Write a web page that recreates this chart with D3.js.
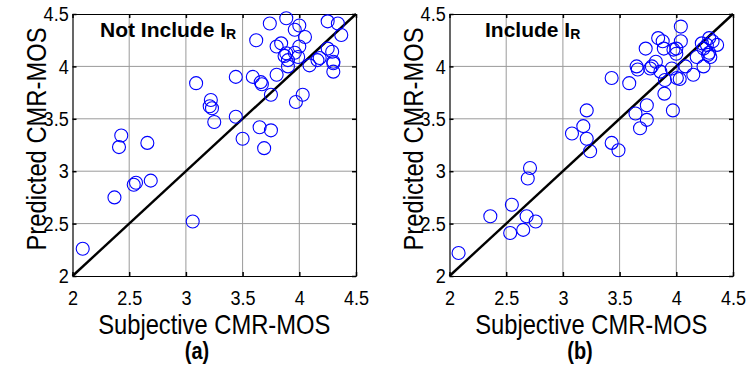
<!DOCTYPE html>
<html>
<head>
<meta charset="utf-8">
<script src="https://cdn.jsdelivr.net/npm/d3@7"></script>
<style>
  html, body { margin: 0; padding: 0; background: #fff; }
  svg { display: block; font-family: "Liberation Sans", Arial, Helvetica, sans-serif; }
</style>
</head>
<body>
<svg id="chart" width="750" height="368"></svg>
<script>
// Axis ticks shared by both panels
const tickValues = [2, 2.5, 3, 3.5, 4, 4.5];
const tickLabels = ["2", "2.5", "3", "3.5", "4", "4.5"];

// Panel (a): model without I_R
const subjectiveA = [2.09, 2.37, 2.43, 2.41, 2.66, 2.54, 2.56, 2.69, 3.06, 3.09,
  3.44, 3.59, 3.66, 3.67, 3.80, 3.75, 3.22, 3.21, 3.23, 3.97,
  4.03, 3.25, 3.44, 3.65, 3.75, 3.50, 3.69, 3.62, 3.74, 3.885,
  4.00, 3.96, 4.05, 4.25, 4.34, 4.37, 3.80, 3.84, 4.00, 3.885,
  3.96, 3.99, 3.90, 3.90, 4.09, 4.18, 4.16, 4.25, 4.29, 4.30,
  4.30, 4.30, 3.87];
const predictedA = [2.26, 2.75, 3.34, 3.23, 3.27, 2.87, 2.89, 2.91, 2.52, 3.84,
  3.90, 3.90, 3.85, 3.83, 3.92, 3.73, 3.68, 3.62, 3.60, 3.66,
  3.73, 3.47, 3.52, 3.42, 3.39, 3.31, 3.22, 4.25, 4.41, 4.46,
  4.39, 4.35, 4.28, 4.43, 4.41, 4.30, 4.19, 4.22, 4.19, 4.125,
  4.13, 4.09, 4.06, 4.00, 4.01, 4.08, 4.06, 4.17, 4.14, 4.045,
  4.03, 3.95, 4.10];

// Panel (b): model including I_R
const subjectiveB = [2.08, 2.36, 2.535, 2.55, 2.65, 2.68, 2.76, 2.69, 2.71, 3.21,
  3.18, 3.08, 3.21, 3.24, 3.43, 3.49, 3.43, 3.585, 3.65, 3.66,
  3.73, 3.785, 3.77, 3.82, 3.84, 3.88, 3.89, 3.86, 3.90, 3.895,
  3.74, 3.64, 3.74, 3.68, 3.97, 3.975, 4.00, 4.00, 4.04, 4.04,
  3.96, 4.005, 4.03, 4.08, 4.15, 4.18, 4.24, 4.28, 4.29, 4.225,
  4.24, 4.27, 4.32, 4.36, 4.30, 4.29];
const predictedB = [2.22, 2.57, 2.41, 2.68, 2.44, 2.57, 2.52, 2.93, 3.03, 3.58,
  3.43, 3.36, 3.31, 3.19, 3.27, 3.20, 3.89, 3.84, 4.00, 3.97,
  4.17, 4.00, 3.98, 4.045, 4.27, 4.24, 4.17, 3.95, 3.87, 3.74,
  3.63, 3.55, 3.49, 3.41, 3.58, 4.16, 4.17, 4.12, 4.38, 4.24,
  3.98, 3.89, 3.88, 4.00, 3.92, 4.09, 4.00, 4.11, 4.27, 4.22,
  4.17, 4.205, 4.24, 4.205, 4.09, 4.13];

const panels = [
  { x: subjectiveA, y: predictedA, title: "Not Include I", sub: "R", tag: "(a)",
    left: 72.5, right: 356, titleX: 100, tagX: 197 },
  { x: subjectiveB, y: predictedB, title: "Include I", sub: "R", tag: "(b)",
    left: 449.5, right: 733, titleX: 485, tagX: 580 }
];

const plotTop = 14, plotBottom = 276;
const textScale = "scale(0.95,1.1)";   // tall, narrow lettering
const svg = d3.select("#chart");

// text placed at (x, y) and stretched vertically about its anchor point
function label(sel, x, y, rot, scale) {
  return sel.append("text")
    .attr("transform", `translate(${x},${y})${rot ? " rotate(" + rot + ")" : ""} ${scale || textScale}`)
    .attr("fill", "#000");
}

panels.forEach(p => {
  const xs = d3.scaleLinear().domain([2, 4.5]).range([p.left, p.right]);
  const ys = d3.scaleLinear().domain([2, 4.5]).range([plotBottom, plotTop]);
  const g = svg.append("g");

  // grid
  g.append("g").selectAll("line").data(tickValues.slice(1, -1)).join("line")
    .attr("x1", d => xs(d)).attr("x2", d => xs(d)).attr("y1", plotTop).attr("y2", plotBottom)
    .attr("stroke", "#9a9a9a").attr("stroke-width", 1);
  g.append("g").selectAll("line").data(tickValues.slice(1, -1)).join("line")
    .attr("y1", d => ys(d)).attr("y2", d => ys(d)).attr("x1", p.left).attr("x2", p.right)
    .attr("stroke", "#9a9a9a").attr("stroke-width", 1);

  // axes with inward ticks on all four sides
  const fmt = (d) => tickLabels[tickValues.indexOf(d)];
  const axB = g.append("g").attr("transform", `translate(0,${plotBottom})`)
    .call(d3.axisBottom(xs).tickValues(tickValues).tickFormat(fmt).tickSizeInner(-4).tickSizeOuter(0).tickPadding(13));
  const axL = g.append("g").attr("transform", `translate(${p.left},0)`)
    .call(d3.axisLeft(ys).tickValues(tickValues).tickFormat(fmt).tickSizeInner(-4).tickSizeOuter(0).tickPadding(4));
  g.append("g").attr("transform", `translate(0,${plotTop})`)
    .call(d3.axisTop(xs).tickValues(tickValues).tickFormat("").tickSizeInner(-4).tickSizeOuter(0));
  g.append("g").attr("transform", `translate(${p.right},0)`)
    .call(d3.axisRight(ys).tickValues(tickValues).tickFormat("").tickSizeInner(-4).tickSizeOuter(0));
  g.selectAll(".domain").attr("stroke", "#000").attr("stroke-width", 1.2);
  g.selectAll(".tick line").attr("stroke", "#000").attr("stroke-width", 1.5);
  [axB, axL].forEach(a => a.selectAll(".tick text")
    .attr("font-size", 19).attr("fill", "#000")
    .attr("font-family", "'Liberation Sans', Arial, sans-serif")
    .attr("transform", textScale));

  // identity line
  g.append("line")
    .attr("x1", xs(2)).attr("y1", ys(2)).attr("x2", xs(4.5)).attr("y2", ys(4.5))
    .attr("stroke", "#000").attr("stroke-width", 2.4);

  // scatter
  g.append("g").selectAll("circle").data(p.x.map((v, i) => [v, p.y[i]])).join("circle")
    .attr("cx", d => xs(d[0])).attr("cy", d => ys(d[1])).attr("r", 6.5)
    .attr("fill", "none").attr("stroke", "#0000ff").attr("stroke-width", 1.1);

  // panel title
  const t = label(g, p.titleX, 37, 0, "scale(1,1)").attr("font-size", 21).attr("font-weight", "bold");
  t.append("tspan").text(p.title);
  t.append("tspan").attr("font-size", 14).attr("dy", 2).text(p.sub);

  // axis titles
  const cx = (p.left + p.right) / 2;
  label(g, cx, 334).attr("text-anchor", "middle").attr("font-size", 25).text("Subjective CMR-MOS");
  label(g, p.left - 27, 139, -90).attr("text-anchor", "middle").attr("font-size", 25).text("Predicted CMR-MOS");
  label(g, p.tagX, 359).attr("text-anchor", "middle").attr("font-size", 21)
    .attr("font-weight", "bold").text(p.tag);
});
</script>
</body>
</html>
